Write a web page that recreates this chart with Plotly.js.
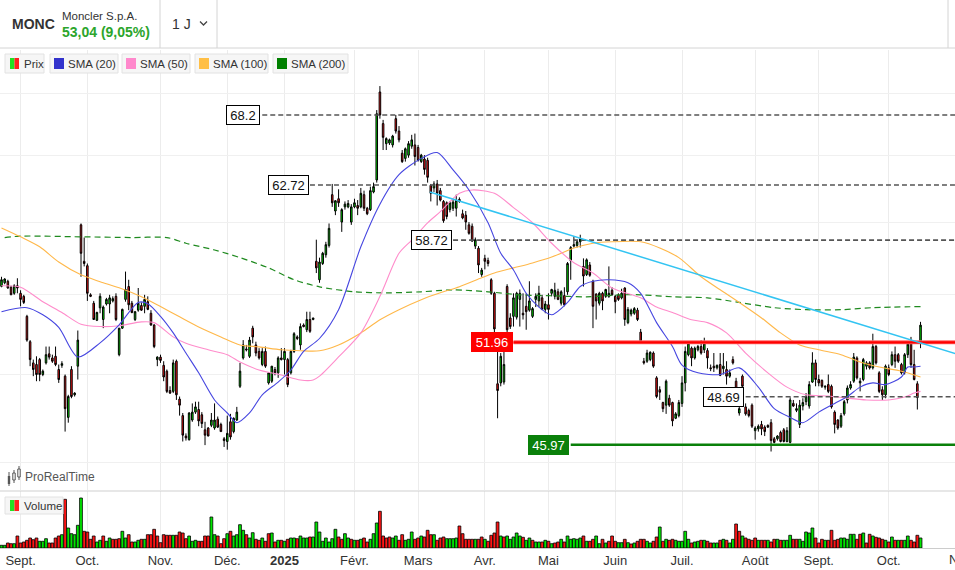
<!DOCTYPE html>
<html><head><meta charset="utf-8">
<script src="https://cdn.plot.ly/plotly-3.0.1.min.js"></script>
<style>html,body{margin:0;padding:0;background:#fff;overflow:hidden}#chart{width:955px;height:570px}</style>
</head><body><div id="chart"></div>
<script>
// ---- Daily candles MONC (23 Aug 2024 -> 15 Oct 2025) ----
const open = [
55.56,55.8,55.9,55.5,55.1,55.6,55.1,54.9,53.6,52.0,
50.7,50.6,50.9,50.0,50.7,51.25,51.0,51.1,50.3,50.55,
49.9,47.5,50.3,48.8,50.5,59.8,57.25,56.95,55.0,54.45,
53.35,54.15,53.4,54.4,54.4,54.6,54.9,51.2,52.85,54.7,
55.55,54.45,53.4,54.0,54.3,54.25,54.55,53.8,53.05,50.9,
51.05,50.55,50.2,49.05,49.0,50.8,48.55,47.6,46.45,46.25,
47.35,47.8,47.95,47.65,46.8,46.9,47.05,46.9,47.4,47.1,
46.3,46.15,47.25,46.7,47.35,49.3,51.0,51.55,51.1,52.85,
51.8,51.4,50.6,51.4,49.5,49.6,50.3,50.1,51.0,50.9,
50.9,50.1,51.4,52.3,51.8,53.05,52.75,53.4,53.4,57.25,
56.0,57.1,57.7,58.35,62.0,60.8,61.7,60.0,61.1,61.1,
60.0,61.1,61.2,61.1,62.0,61.0,60.9,62.2,63.1,70.1,
67.5,65.9,65.95,65.8,67.9,66.9,65.15,64.75,65.0,65.7,
65.8,65.6,64.5,64.7,64.6,62.7,62.5,62.8,62.3,61.5,
61.4,60.9,61.0,61.0,61.65,60.6,60.5,59.8,59.7,58.3,
58.15,56.35,57.45,57.3,56.0,55.1,49.45,49.5,49.55,55.55,
53.5,53.6,53.55,54.7,53.8,54.25,54.0,53.6,54.7,54.6,
54.8,54.05,54.35,55.1,54.9,55.2,54.45,54.95,55.2,57.3,
58.3,58.35,58.6,56.9,56.35,57.0,55.9,55.05,54.45,55.1,
54.9,54.9,55.3,54.9,55.0,54.8,55.45,53.2,53.75,53.8,
54.0,52.6,50.8,50.8,50.9,51.3,49.8,49.1,48.35,48.2,
48.6,48.35,47.45,47.6,48.3,49.5,51.2,51.6,51.0,51.5,
51.7,51.5,51.45,50.4,50.5,50.4,50.6,50.35,50.3,49.9,
50.9,49.6,47.75,49.9,48.1,47.9,48.2,46.75,46.85,47.1,
46.95,47.05,47.2,46.3,46.3,46.65,46.8,46.15,46.1,48.3,
47.9,47.1,48.15,48.4,48.15,49.55,50.7,49.7,49.65,49.25,
49.4,49.3,47.8,47.35,47.0,47.7,48.5,49.2,49.6,51.0,
49.5,49.7,50.5,50.7,50.4,51.7,50.1,49.1,48.8,50.4,
50.6,51.2,51.2,50.6,50.1,51.2,52.0,50.6,49.45,52.0];
const high = [
56.2,56.1,56.0,55.6,55.7,56.1,55.3,55.0,53.7,52.1,
50.9,51.1,51.0,50.3,51.7,51.7,51.2,51.7,50.6,50.8,
50.0,48.8,50.5,48.95,52.7,59.9,58.9,57.1,55.1,54.6,
53.9,55.1,54.3,54.8,55.0,54.9,55.1,52.85,54.1,56.55,
56.0,54.6,53.95,55.45,54.5,55.0,54.9,54.0,53.1,51.1,
51.2,50.8,50.3,49.3,50.9,50.9,48.7,47.75,46.6,47.8,
48.3,48.4,48.4,47.8,47.25,46.95,47.75,48.3,47.55,47.2,
46.4,47.6,47.7,47.5,48.1,50.7,52.1,51.8,52.3,53.0,
52.0,51.6,51.6,51.7,50.1,50.5,50.45,51.1,51.6,51.6,
51.0,51.5,52.6,52.4,53.15,53.15,53.9,53.9,53.5,58.75,
57.5,57.9,58.6,59.9,62.8,61.6,62.4,61.0,61.5,61.6,
61.3,61.7,61.6,62.5,62.3,61.1,62.6,62.9,68.6,70.6,
67.8,66.4,66.3,66.6,68.2,67.3,65.4,65.6,66.1,66.6,
66.7,65.8,65.1,65.0,64.8,62.8,63.0,63.1,62.5,61.6,
61.5,61.5,61.6,62.0,61.8,60.9,60.8,60.0,59.9,58.9,
58.3,56.8,57.7,57.5,56.1,55.2,52.0,51.3,52.0,55.7,
53.8,55.1,55.2,55.35,55.1,55.1,55.9,54.2,55.1,55.6,
55.0,54.6,55.1,55.4,55.8,55.4,55.3,55.5,57.2,58.3,
59.0,58.7,59.1,57.45,57.45,57.2,56.0,55.1,55.2,55.2,
55.4,56.9,55.5,55.0,55.1,55.4,55.5,54.2,54.1,54.2,
54.15,52.8,51.0,51.5,51.4,51.4,49.9,49.3,48.4,49.7,
48.8,48.4,47.8,48.5,49.9,51.7,52.0,51.7,51.7,51.8,
52.1,52.25,51.6,50.6,51.3,50.6,51.3,51.3,50.8,50.3,
51.1,49.8,48.2,50.0,48.3,48.0,48.3,47.0,47.1,47.3,
47.05,47.1,47.4,46.4,46.5,46.75,46.9,46.95,48.65,48.5,
48.3,48.5,48.6,48.9,49.6,51.35,50.9,50.0,49.7,49.35,
50.0,49.4,47.9,47.4,47.75,48.5,49.35,49.6,51.3,51.1,
49.8,51.0,50.8,50.8,52.5,51.8,50.2,49.3,50.6,50.6,
51.4,51.7,51.3,50.7,51.3,51.95,52.3,51.5,49.6,53.25];
const low = [
55.5,55.7,55.4,55.0,55.0,55.1,54.25,54.4,52.0,50.5,
49.9,49.6,49.6,49.9,50.6,50.9,50.7,50.5,49.5,50.4,
46.7,47.2,48.6,48.7,49.7,56.2,56.9,54.6,54.85,53.4,
53.3,53.8,52.85,54.3,53.8,54.5,53.3,51.1,52.8,54.55,
54.0,53.8,53.3,53.9,53.95,53.8,54.0,53.0,51.6,50.5,
50.7,49.6,48.9,48.85,48.9,48.5,47.6,46.15,46.2,46.2,
47.25,47.7,47.0,46.9,45.95,46.45,46.95,46.8,46.9,46.7,
45.85,45.7,46.25,46.6,47.3,49.2,50.9,51.4,51.0,51.9,
51.1,50.9,50.5,50.4,49.4,49.5,49.95,49.8,50.85,50.0,
49.25,50.0,51.3,52.1,51.5,52.9,52.6,52.55,53.35,56.45,
55.8,57.0,57.5,58.2,61.1,60.5,61.1,59.3,60.9,61.0,
59.8,61.0,60.5,61.0,60.8,60.5,60.8,62.1,62.9,67.9,
65.4,65.4,65.8,65.6,66.7,66.0,64.4,64.5,64.8,65.5,
64.2,64.5,64.4,63.5,62.9,61.5,62.2,61.2,61.5,59.95,
60.2,60.7,60.8,60.4,61.4,60.2,59.45,59.1,58.6,58.1,
56.45,56.2,56.7,56.9,55.0,52.6,47.45,49.3,49.4,52.5,
52.8,52.95,53.4,52.95,53.4,52.75,53.9,53.5,54.2,54.2,
54.0,53.8,53.4,54.9,54.7,54.65,54.3,54.25,55.0,56.0,
58.2,58.2,58.2,55.55,56.25,56.2,52.85,53.4,54.3,54.0,
54.8,54.8,54.95,53.8,54.6,54.7,53.0,53.1,53.6,53.7,
53.3,51.9,50.6,50.7,50.8,50.4,48.6,48.5,47.8,47.7,
48.1,47.0,47.4,47.5,48.1,49.0,51.1,50.5,50.9,51.4,
51.2,51.3,50.35,50.2,50.15,50.3,49.9,50.0,49.4,49.8,
50.6,48.3,47.6,48.9,47.6,47.5,46.9,46.25,46.7,46.5,
46.45,46.9,45.6,46.05,46.2,46.1,46.1,46.1,46.05,48.1,
47.8,46.9,47.9,48.2,48.0,49.5,49.3,49.3,49.2,49.1,
48.9,48.0,46.6,46.8,46.9,47.6,48.3,49.1,49.5,49.7,
49.0,49.6,50.3,50.3,50.3,50.6,48.9,48.5,48.6,49.9,
50.5,50.4,50.7,50.0,50.0,51.0,50.4,49.65,47.95,51.6];
const close = [
56.0,56.05,55.45,55.0,55.6,55.45,54.7,54.5,52.1,50.9,
50.3,50.0,50.0,50.2,51.2,51.05,50.8,50.6,49.7,50.65,
48.0,48.7,48.7,48.9,52.1,57.8,57.1,55.1,54.9,53.4,
53.85,54.9,54.2,54.7,54.8,54.75,53.4,52.85,54.05,55.35,
54.35,53.85,53.9,54.45,54.0,54.7,54.05,53.05,51.7,51.05,
50.85,49.85,49.0,48.9,50.7,48.8,48.2,46.5,46.35,47.75,
47.8,48.1,47.3,47.15,46.5,46.45,47.35,47.35,46.95,46.7,
46.2,46.6,46.4,47.45,47.8,50.2,51.8,51.5,52.1,52.3,
51.3,51.0,51.4,50.5,50.1,50.5,50.1,51.0,50.9,51.4,
49.4,51.4,52.5,52.2,52.95,52.95,53.4,52.65,53.5,56.8,
57.2,57.8,58.4,59.55,61.4,61.55,61.4,60.9,61.3,61.35,
61.1,61.4,61.0,62.1,61.0,60.6,62.3,62.6,68.3,68.2,
66.4,66.3,66.2,66.5,66.9,66.2,64.5,65.5,65.9,66.2,
64.9,64.6,65.0,63.9,63.3,62.1,62.8,62.1,61.6,60.1,
60.4,61.4,61.45,61.6,61.5,60.3,60.0,59.2,58.65,58.75,
57.0,56.65,57.25,57.1,55.1,52.8,49.05,51.1,50.6,52.75,
52.95,54.8,55.1,55.1,53.7,53.9,54.6,54.1,54.9,55.1,
54.05,54.4,54.05,55.35,55.3,54.7,55.2,54.35,57.1,58.2,
58.4,58.6,58.8,56.25,57.35,56.3,54.25,54.6,55.1,54.6,
55.35,55.1,55.0,54.55,54.7,55.1,53.4,54.05,54.0,54.1,
53.4,52.0,50.7,51.3,51.35,50.5,48.7,48.95,48.0,49.6,
48.2,47.3,47.7,48.35,49.5,51.4,51.9,51.0,51.6,51.7,
51.3,51.9,51.0,50.35,50.4,50.55,49.95,50.5,49.9,50.1,
50.7,48.6,48.0,49.3,47.7,47.6,47.0,46.9,47.0,46.85,
46.7,46.95,46.2,46.1,46.45,46.15,46.15,46.75,48.5,48.15,
48.0,48.2,48.35,48.7,49.4,50.7,49.7,49.5,49.3,49.3,
49.0,48.1,47.1,46.9,47.6,48.4,49.2,49.4,51.05,49.8,
49.6,50.9,50.7,50.4,51.7,50.7,49.0,48.8,50.5,50.0,
51.2,50.8,50.8,50.1,51.2,51.85,50.6,49.7,48.64,53.04];
// volume, millions of shares
const volume = [
0.27,0.27,0.5,0.43,0.43,1.2,0.5,0.6,0.77,1.0,
0.83,1.0,0.67,0.67,0.93,0.5,0.5,1.0,1.2,1.33,
4.87,2.0,1.43,1.33,2.27,5.0,1.67,1.6,0.87,1.2,
0.6,0.77,1.2,0.67,1.0,0.87,0.87,0.93,1.67,1.0,
1.33,0.6,0.6,0.77,0.87,0.87,1.33,1.33,1.87,1.2,
0.53,1.33,1.27,1.27,1.27,1.27,1.6,1.5,0.93,1.2,
0.67,0.77,0.67,0.67,1.2,1.2,3.1,1.33,1.2,0.43,
0.93,1.43,1.67,1.2,1.33,2.33,1.77,1.33,1.0,1.53,
0.87,0.77,1.0,0.67,1.43,1.5,0.6,0.77,0.77,0.67,
0.87,1.0,1.0,0.93,1.2,1.0,1.0,1.1,1.1,2.6,
1.6,0.67,1.0,0.6,0.93,1.87,1.1,0.87,1.43,1.0,
0.87,0.77,0.77,0.87,1.0,0.6,0.87,1.43,2.5,3.67,
1.2,1.0,1.1,1.0,1.2,0.77,1.33,0.77,0.87,1.6,
0.87,1.0,1.2,1.1,1.77,1.33,1.33,0.77,1.0,1.1,
0.93,0.93,0.93,1.0,2.2,1.43,0.87,0.87,0.87,0.87,
0.87,1.1,0.87,0.67,1.27,1.5,2.6,1.2,1.1,1.2,
0.87,1.1,1.5,1.2,1.07,0.77,1.0,0.77,0.6,0.6,
0.6,0.77,0.67,0.43,0.5,0.6,0.87,0.6,1.2,0.87,
0.93,0.87,1.0,1.2,0.67,0.67,0.87,1.2,0.43,0.87,
0.5,0.67,1.2,0.67,0.53,0.53,0.87,0.53,0.4,0.5,
0.67,0.87,0.87,0.67,0.5,0.67,1.1,2.1,0.67,0.87,
0.77,0.87,0.77,0.67,0.67,1.67,0.87,0.5,0.6,0.67,
0.77,0.77,0.67,0.5,0.5,0.5,0.77,0.87,0.77,0.5,
0.87,2.4,1.67,1.2,1.0,0.87,0.77,1.0,0.77,0.77,
0.77,0.77,0.6,0.87,0.87,0.77,0.77,0.77,1.27,0.87,
0.87,0.87,0.67,1.6,1.5,2.0,1.0,0.5,0.87,0.77,
0.77,1.77,0.77,0.87,1.0,1.0,0.87,1.37,1.37,0.87,
1.37,1.5,0.5,1.37,1.2,1.07,1.0,0.87,0.77,0.6,
1.1,0.77,0.77,0.77,0.77,1.2,0.77,0.6,1.27,1.0];

// moving averages, sampled along the curves (candle index -> value)
const sma20Idx = [0,8,13,18,24,31,37,43,46,50,54,58,62,67,71,74,78,82,87,91,95,100,106,113,119,125,132,137,142,147,153,157,161,165,169,173,178,182,186,191,197,201,206,211,214,219,226,232,238,243,248,252,257,262,266,270,274,278,283,285,287,289];
const sma20Val = [53.9,54.16,53.7,52.9,51.06,51.93,53.06,54.5,54.42,53.6,52.55,51.3,50.1,48.5,47.75,47.2,47.75,48.8,49.55,50.27,51.4,52.2,54.03,58.25,61.3,63.5,64.75,65.2,63.86,62.35,59.95,57.8,56.66,55.1,54.2,53.7,54.5,55.55,55.9,56.0,55.8,55.1,53.2,51.7,50.57,50.1,50.0,50.4,49.25,48.0,47.5,47.2,47.8,48.3,48.7,49.25,49.5,49.4,49.85,50.45,50.45,50.5];
const sma50Idx = [0,6,13,19,25,31,37,44,48,54,58,65,71,75,81,88,94,98,100,106,113,119,125,129,134,138,144,148,155,161,167,173,180,186,192,201,206,211,217,222,228,234,241,247,253,260,266,272,279,284,287,289];
const sma50Val = [55.6,55.5,54.55,53.85,53.1,52.95,53.0,53.25,53.2,52.3,51.9,51.5,51.2,50.75,50.27,49.97,49.67,49.67,49.9,51.06,52.55,54.9,57.8,58.72,59.95,60.75,62.1,62.35,62.1,61.05,59.95,58.5,57.15,56.45,55.45,54.8,54.2,53.85,53.38,53.2,52.55,51.3,50.1,49.25,48.8,48.73,48.6,48.5,48.5,48.67,48.9,49.0];
const sma100Idx = [0,6,12,18,25,31,37,44,50,56,62,69,75,81,88,94,100,106,113,119,125,132,138,144,151,155,161,167,173,180,186,192,201,207,213,220,226,232,239,245,251,257,264,270,276,283,289];
const sma100Val = [59.58,58.95,58.25,57.2,56.33,55.87,55.46,54.87,54.23,53.57,52.93,52.3,51.8,51.68,51.5,51.44,51.44,51.8,52.55,53.38,54.03,54.68,55.13,55.53,56.13,56.46,56.8,57.14,57.54,58.17,58.5,58.6,58.6,58.17,57.5,56.2,55.33,54.5,53.5,52.55,51.8,51.5,51.2,50.75,50.45,50.2,49.85];
const sma200Idx = [1,6,25,41,52,58,67,75,84,92,100,111,121,132,142,153,163,173,184,195,201,211,222,232,243,253,264,274,289];
const sma200Val = [58.9,59.0,58.95,58.9,58.9,58.5,58.03,57.5,56.8,56.0,55.53,55.2,55.13,55.2,55.33,55.2,55.0,54.94,54.87,55.0,55.0,54.87,54.8,54.5,54.16,54.03,54.03,54.16,54.23];

// drawn levels and trend line
const dashedLevels = [68.2, 62.72, 58.72, 48.69];
const resistanceLevel = 51.96;
const supportLevel = 45.97;
const trendVal = [62.2, 51.25];

// calendar
const firstDay = '2024-08-23';
const holidays = ['2024-12-24','2024-12-25','2024-12-26','2024-12-31','2025-01-01','2025-04-18','2025-04-21','2025-05-01','2025-08-15'];
const monthLabels = ['Sept.','Oct.','Nov.','Déc.','<b>2025</b>','Févr.','Mars','Avr.','Mai','Juin','Juil.','Août','Sept.','Oct.'];

// ---------- build ----------
function tradingDays(start, n, hol){
  const out=[]; const d=new Date(start+'T12:00:00Z');
  while(out.length<n){
    const wd=d.getUTCDay(); const s=d.toISOString().slice(0,10);
    if(wd!==0 && wd!==6 && !hol.includes(s)) out.push(s);
    d.setUTCDate(d.getUTCDate()+1);
  }
  return out;
}
const N = close.length;
const dates = tradingDays(firstDay, N, holidays);
const idx = dates.map((_,i)=>i);
const monthIdx = [];
for(let i=1;i<N;i++){ if(dates[i].slice(0,7)!==dates[i-1].slice(0,7)) monthIdx.push(i); }

const W=955, H=570;
const px = x=>x/W, py = y=>1-y/H;
const GREEN='#00e600', RED='#ff1414';
const FONT='Liberation Sans, Arial, sans-serif';

const volColors = close.map((c,i)=> (i===0 || c>=close[i-1]) ? GREEN : RED);

const traces = [];
function sma(xs, ys, color, dash, w){
  traces.push({type:'scatter', mode:'lines', x:xs, y:ys, yaxis:'y', hoverinfo:'skip',
    line:{color:color, width:w||1, dash:dash||'solid', shape:'spline', smoothing:0.8}});
}
sma(sma200Idx, sma200Val, '#1f8a1f', '6px,4px', 1.2);
sma(sma100Idx, sma100Val, '#ffb84a', null, 1.1);
sma(sma50Idx, sma50Val, '#ff8ccb', null, 1.1);
sma(sma20Idx, sma20Val, '#4646e0', null, 1.1);

traces.push({type:'candlestick', x:idx, open:open, high:high, low:low, close:close,
  xaxis:'x', yaxis:'y', hoverinfo:'skip', whiskerwidth:0,
  increasing:{line:{color:'#000', width:1}, fillcolor:GREEN},
  decreasing:{line:{color:'#000', width:1}, fillcolor:RED}});

traces.push({type:'bar', x:idx, y:volume, xaxis:'x', yaxis:'y2', hoverinfo:'skip',
  marker:{color:volColors, line:{color:'#000', width:0.8}}});

// level lines (start index = where the drawn line begins)
const dashedStart = [82, 97, 142, 234];
dashedLevels.forEach((v,k)=>{
  traces.push({type:'scatter', mode:'lines', x:[dashedStart[k], 305], y:[v,v], yaxis:'y', hoverinfo:'skip',
    line:{color:'#555', width:1.6, dash:'5px,3px'}});
});
traces.push({type:'scatter', mode:'lines', x:[161,305], y:[resistanceLevel,resistanceLevel], yaxis:'y', hoverinfo:'skip',
  line:{color:'#ff6a6a', width:4}});
traces.push({type:'scatter', mode:'lines', x:[161,305], y:[resistanceLevel,resistanceLevel], yaxis:'y', hoverinfo:'skip',
  line:{color:'#ff0000', width:2.2}});
traces.push({type:'scatter', mode:'lines', x:[179,305], y:[supportLevel,supportLevel], yaxis:'y', hoverinfo:'skip',
  line:{color:'#0a800a', width:2.6}});
traces.push({type:'scatter', mode:'lines', x:[134.7,300.2], y:trendVal, yaxis:'y', hoverinfo:'skip',
  line:{color:'#33c4f2', width:1.5}});

// ---------- annotations ----------
const ann = [];
function txt(t, x, y, size, color, extra){
  ann.push(Object.assign({text:t, xref:'paper', yref:'paper', x:px(x), y:py(y), xanchor:'left', yanchor:'middle',
    showarrow:false, font:{family:FONT, size:size, color:color}}, extra||{}));
}
txt('<b>MONC</b>', 10, 24, 14, '#333');
txt('Moncler S.p.A.', 60, 16, 11.5, '#333');
txt('<b>53,04 (9,05%)</b>', 60, 32, 14, '#2ca52c');
txt('1 J', 170, 24, 14, '#333');
txt('Prix', 22, 63.5, 11.5, '#333');
txt('SMA (20)', 66, 63.5, 11.5, '#333');
txt('SMA (50)', 138, 63.5, 11.5, '#333');
txt('SMA (100)', 211, 63.5, 11.5, '#333');
txt('SMA (200)', 289, 63.5, 11.5, '#333');
txt('ProRealTime', 23, 477, 12, '#555');
txt('Volume', 22, 505.5, 11.5, '#333');
txt('Nov.', 962, 559, 12, '#333', {xanchor:'center', font:{family:'Liberation Sans Narrow, Liberation Sans, Arial', size:13, color:'#333'}});

function levelLabel(v, xi, w, bg, fg, border){
  ann.push({text:String(v), xref:'x', yref:'y', x:xi, y:Math.log10(v), xanchor:'center', yanchor:'middle',
    showarrow:false, font:{family:FONT, size:13, color:fg}, bgcolor:bg, bordercolor:border, borderwidth:1,
    borderpad:2, width:w, height:14});
}
levelLabel(68.2, 76.0, 28, '#fff', '#111', '#000');
levelLabel(62.72, 90.1, 35, '#fff', '#111', '#000');
levelLabel(58.72, 135.2, 35, '#fff', '#111', '#000');
levelLabel(48.69, 227.0, 35, '#fff', '#111', '#000');
levelLabel(51.96, 154.2, 36, '#ff0000', '#fff', '#ff0000');
levelLabel(45.97, 172.0, 35, '#0a800a', '#fff', '#0a800a');

// ---------- shapes ----------
const shp = [];
function line(x0,y0,x1,y1,color,w){ shp.push({type:'line', xref:'paper', yref:'paper', x0:px(x0), y0:py(y0), x1:px(x1), y1:py(y1), line:{color:color, width:w||1}}); }
function rect(x0,y0,x1,y1,fill,lc){ shp.push({type:'rect', xref:'paper', yref:'paper', x0:px(x0), y0:py(y1), x1:px(x1), y1:py(y0), fillcolor:fill, line:{color:lc||fill, width:lc?1:0}}); }
line(0,48,955,48,'#d4d4d4');
line(160,0,160,48,'#d4d4d4');
line(217,0,217,48,'#d4d4d4');
line(948,0,948,48,'#d4d4d4');
shp.push({type:'path', xref:'paper', yref:'paper', path:`M ${px(200)} ${py(21.5)} L ${px(203.5)} ${py(25)} L ${px(207)} ${py(21.5)}`, line:{color:'#444', width:1.3}});
// legend row
rect(5,54,44,73,'#f6f6f6','#e2e2e2');
rect(50,54,118,73,'#f6f6f6','#e2e2e2');
rect(122,54,190,73,'#f6f6f6','#e2e2e2');
rect(195,54,268,73,'#f6f6f6','#e2e2e2');
rect(273,54,348,73,'#f6f6f6','#e2e2e2');
rect(10,58,14.5,69,'#22e022'); rect(14.5,58,19,69,'#ff2020');
rect(54,58,64,69,'#3333cc');
rect(126,58,136,69,'#ff88cc');
rect(199,58,209,69,'#ffbf46');
rect(277,58,287,69,'#008000');
// ProRealTime icon
line(9,472,9,486,'#555',1); rect(7.8,476,10.2,484,'#555');
line(14,470,14,483,'#555',1); rect(12.8,473,15.2,480,'#fff','#555');
line(19,466,19,480,'#555',1); rect(17.8,469,20.2,477,'#fff','#555');
// panel separator
line(0,491,955,491,'#cfcfcf');
// volume legend
rect(5,497,63,514,'#f6f6f6','#e2e2e2');
rect(10,500,14.5,511,'#22e022'); rect(14.5,500,19,511,'#ff2020');

const layout = {
  width:W, height:H, margin:{l:0,r:0,t:0,b:0}, paper_bgcolor:'#fff', plot_bgcolor:'#fff',
  showlegend:false, hovermode:false, bargap:0.12,
  xaxis:{type:'linear', range:[-0.47, 299.84], tickvals:monthIdx, ticktext:monthLabels,
    showgrid:true, gridcolor:'#ececec', gridwidth:1, zeroline:false, showline:true, linecolor:'#cccccc',
    ticks:'', tickfont:{family:'Liberation Sans Narrow, Liberation Sans, Arial', size:13, color:'#333'},
    anchor:'y2', rangeslider:{visible:false}, fixedrange:true},
  yaxis:{type:'log', domain:[(H-490)/H, (H-50)/H], range:[1.63897, 1.86754], tickvals:[45,50,55,60,65,70],
    showticklabels:false, showgrid:true, gridcolor:'#f0f0f0', zeroline:false, showline:false, fixedrange:true},
  yaxis2:{domain:[(H-548)/H, (H-491)/H], range:[0,5.7], showticklabels:false, showgrid:false, zeroline:false, fixedrange:true},
  annotations:ann, shapes:shp
};
Plotly.newPlot('chart', traces, layout, {displayModeBar:false, staticPlot:true});
</script></body></html>
